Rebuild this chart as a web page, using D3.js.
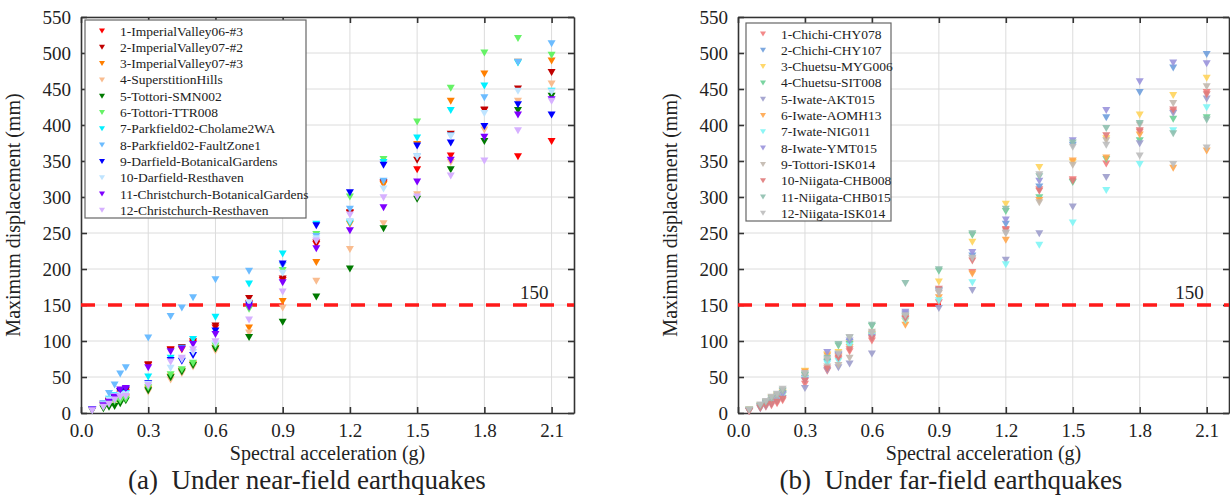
<!DOCTYPE html>
<html>
<head>
<meta charset="utf-8">
<script src="https://cdn.jsdelivr.net/npm/d3@7"></script>
<style>
  body { margin: 0; background: #fff; }
  text { font-family: "Liberation Serif", "Times New Roman", serif; fill: #222; }
</style>
</head>
<body>
<script>
// spectral acceleration levels (g)
var xs = [0.05, 0.1, 0.125, 0.15, 0.175, 0.2, 0.3, 0.4, 0.45, 0.5, 0.6, 0.75, 0.9, 1.05, 1.2, 1.35, 1.5, 1.65, 1.8, 1.95, 2.1];
var xTicks = [0.0, 0.3, 0.6, 0.9, 1.2, 1.5, 1.8, 2.1];
var yTicks = [0, 50, 100, 150, 200, 250, 300, 350, 400, 450, 500, 550];
var limit = 150;

// (a) near-field
var nearNames = ['1-ImperialValley06-#3', '2-ImperialValley07-#2', '3-ImperialValley07-#3', '4-SuperstitionHills',
  '5-Tottori-SMN002', '6-Tottori-TTR008', '7-Parkfield02-Cholame2WA', '8-Parkfield02-FaultZone1',
  '9-Darfield-BotanicalGardens', '10-Darfield-Resthaven', '11-Christchurch-BotanicalGardens', '12-Christchurch-Resthaven'];
var nearColors = ['#ff0000', '#c00000', '#ff7f00', '#f9bc8f', '#007a00', '#66f266', '#00f0ff', '#6cbcff',
  '#0000ff', '#bfe4ff', '#7f00ff', '#d6b0ff'];
var nearValues = [
  [5, 11, 16, 20, 26, 28, 66, 88, 88, 97, 118, 152, 184, 234, 277, 318, 338, 357, 420, 356, 377],
  [5, 12, 17, 22, 29, 31, 67, 87, 91, 99, 121, 159, 186, 236, 278, 320, 351, 387, 421, 450, 473],
  [4, 9, 13, 17, 20, 22, 33, 50, 58, 67, 90, 118, 155, 209, 262, 317, 373, 433, 471, 487, 489],
  [3, 7, 10, 13, 16, 20, 29, 46, 55, 64, 86, 111, 146, 183, 227, 263, 303, 348, 393, 433, 457],
  [3, 6, 8, 9, 13, 17, 31, 49, 57, 66, 89, 105, 126, 161, 200, 256, 297, 338, 377, 420, 440],
  [5, 8, 12, 16, 17, 19, 35, 53, 60, 69, 93, 144, 198, 248, 300, 352, 404, 451, 500, 520, 497],
  [5, 12, 19, 24, 24, 27, 50, 76, 90, 102, 133, 179, 221, 262, 264, 348, 382, 420, 454, 486, 447],
  [5, 13, 27, 39, 54, 63, 104, 134, 146, 160, 185, 197, 205, 245, 283, 322, 356, 385, 438, 487, 513],
  [4, 10, 15, 21, 30, 33, 41, 73, 72, 80, 114, 150, 207, 260, 306, 344, 371, 375, 398, 428, 414],
  [4, 11, 18, 23, 25, 26, 40, 62, 74, 84, 96, 153, 194, 242, 266, 311, 356, 384, 416, 447, 446],
  [4, 10, 15, 22, 32, 34, 63, 85, 89, 95, 109, 147, 181, 228, 253, 285, 321, 351, 383, 414, 435],
  [3, 8, 12, 18, 22, 23, 38, 71, 76, 88, 99, 129, 168, 239, 275, 299, 300, 329, 350, 392, 433]
];

// (b) far-field
var farNames = ['1-Chichi-CHY078', '2-Chichi-CHY107', '3-Chuetsu-MYG006', '4-Chuetsu-SIT008', '5-Iwate-AKT015',
  '6-Iwate-AOMH13', '7-Iwate-NIG011', '8-Iwate-YMT015', '9-Tottori-ISK014', '10-Niigata-CHB008',
  '11-Niigata-CHB015', '12-Niigata-ISK014'];
var farColors = ['#f27c7c', '#6f9fdc', '#ffd45c', '#6ccf96', '#9d9dcc', '#ffa64d', '#7ff5f5', '#9a94dc',
  '#c2b8ae', '#e07a7a', '#8ebfae', '#bcbcbc'];
var farValues = [
  [2, 6, 8, 10, 13, 17, 40, 58, 74, 85, 100, 130, 153, 195, 255, 310, 324, 346, 390, 418, 445],
  [3, 8, 11, 15, 19, 25, 48, 70, 81, 98, 108, 136, 170, 218, 262, 314, 372, 410, 445, 479, 498],
  [4, 10, 14, 21, 24, 28, 58, 81, 84, 96, 109, 127, 182, 237, 290, 341, 348, 381, 414, 441, 465],
  [3, 9, 13, 17, 22, 27, 52, 72, 93, 95, 120, 133, 197, 247, 280, 299, 320, 352, 378, 408, 410],
  [2, 6, 9, 12, 16, 20, 34, 59, 63, 68, 82, 138, 145, 170, 212, 249, 286, 327, 374, 416, 436],
  [3, 8, 12, 16, 20, 24, 57, 79, 78, 91, 106, 122, 160, 193, 240, 295, 350, 354, 386, 340, 364],
  [3, 8, 12, 15, 19, 24, 47, 68, 72, 93, 107, 128, 156, 181, 206, 233, 264, 309, 345, 392, 424],
  [3, 9, 13, 17, 21, 26, 45, 84, 80, 100, 105, 140, 168, 223, 268, 322, 378, 420, 460, 486, 485],
  [3, 9, 14, 18, 23, 30, 50, 64, 66, 76, 112, 134, 166, 214, 249, 292, 344, 378, 400, 430, 453],
  [2, 7, 10, 12, 15, 19, 44, 61, 76, 88, 103, 131, 172, 211, 253, 308, 322, 385, 392, 421, 442],
  [4, 10, 15, 20, 25, 31, 53, 76, 95, 104, 122, 180, 199, 249, 283, 328, 375, 395, 402, 388, 407],
  [4, 11, 16, 22, 26, 33, 55, 74, 82, 105, 110, 135, 169, 215, 250, 331, 369, 372, 357, 345, 368]
];

var svg = d3.select('body').append('svg')
  .attr('width', 1230)
  .attr('height', 500);

// downward triangle centred on (0,0)
function tri(w, h) {
  return 'M' + (-w / 2) + ',' + (-h / 2) + 'L' + (w / 2) + ',' + (-h / 2) + 'L0,' + (h / 2) + 'Z';
}

function drawPanel(p) {
  var x = d3.scaleLinear().domain([0, 2.2]).range([p.left, p.right]);
  var y = d3.scaleLinear().domain([0, 550]).range([413, 17]);
  var g = svg.append('g');

  // grid
  g.selectAll('.gx').data(xTicks.slice(1)).enter().append('line')
    .attr('x1', function(d) { return x(d); }).attr('x2', function(d) { return x(d); })
    .attr('y1', y(0)).attr('y2', y(550))
    .attr('stroke', '#dcdcdc').attr('stroke-width', 1);
  g.selectAll('.gy').data(yTicks.slice(1)).enter().append('line')
    .attr('x1', x(0)).attr('x2', x(2.2))
    .attr('y1', function(d) { return y(d); }).attr('y2', function(d) { return y(d); })
    .attr('stroke', '#dcdcdc').attr('stroke-width', 1);

  // axes with inward ticks
  var fmt = d3.format('.1f');
  g.append('g').attr('transform', 'translate(0,' + y(0) + ')')
    .call(d3.axisBottom(x).tickValues(xTicks).tickFormat(fmt).tickSizeInner(-6).tickSizeOuter(0).tickPadding(10.5));
  g.append('g').attr('transform', 'translate(0,' + y(550) + ')')
    .call(d3.axisTop(x).tickValues(xTicks).tickFormat('').tickSizeInner(-6).tickSizeOuter(0));
  g.append('g').attr('transform', 'translate(' + x(0) + ',0)')
    .call(d3.axisLeft(y).tickValues(yTicks).tickSizeInner(-6).tickSizeOuter(0).tickPadding(10));
  g.append('g').attr('transform', 'translate(' + x(2.2) + ',0)')
    .call(d3.axisRight(y).tickValues(yTicks).tickFormat('').tickSizeInner(-6).tickSizeOuter(0));
  g.selectAll('.domain').attr('stroke', '#333').attr('stroke-width', 1.6);
  g.selectAll('.tick line').attr('stroke', '#333').attr('stroke-width', 1.6);
  g.selectAll('.tick text').attr('font-size', 19).attr('font-family', '"Liberation Serif", serif').attr('fill', '#222');

  // 150 mm limit
  g.append('line')
    .attr('x1', x(0)).attr('x2', x(2.2))
    .attr('y1', y(limit)).attr('y2', y(limit))
    .attr('stroke', '#ff1a1a').attr('stroke-width', 3.5)
    .attr('stroke-dasharray', '14,13');
  g.append('text')
    .attr('x', x(2.1) - 3).attr('y', y(limit) - 6)
    .attr('text-anchor', 'end').attr('font-size', 19)
    .text(limit);

  // points
  p.values.forEach(function(vals, i) {
    g.append('g').selectAll('path').data(vals).enter().append('path')
      .attr('d', tri(8, 7))
      .attr('transform', function(d, j) { return 'translate(' + x(xs[j]) + ',' + y(d) + ')'; })
      .attr('fill', p.colors[i])
      .attr('fill-opacity', p.opacity);
  });

  // legend
  var lg = g.append('g').attr('transform', 'translate(' + p.legX + ',' + p.legY + ')');
  lg.append('rect')
    .attr('width', p.legW).attr('height', 198)
    .attr('fill', '#fff').attr('stroke', '#666').attr('stroke-width', 1.2);
  p.names.forEach(function(n, i) {
    lg.append('path')
      .attr('d', tri(6, 5))
      .attr('transform', 'translate(17,' + (11 + i * 16.3) + ')')
      .attr('fill', p.colors[i]).attr('fill-opacity', p.opacity);
    lg.append('text')
      .attr('x', 35).attr('y', 15.5 + i * 16.3)
      .attr('font-size', 13.5).attr('fill', '#333')
      .text(n);
  });

  // axis titles and caption
  g.append('text')
    .attr('transform', 'translate(' + (p.left - 61) + ',' + y(275) + ') rotate(-90)')
    .attr('text-anchor', 'middle').attr('font-size', 20)
    .text('Maximum displacement (mm)');
  g.append('text')
    .attr('x', (p.left + p.right) / 2).attr('y', 460)
    .attr('text-anchor', 'middle').attr('font-size', 20)
    .text('Spectral acceleration (g)');
  g.append('text')
    .attr('x', p.capX).attr('y', 489)
    .attr('text-anchor', 'middle').attr('font-size', 27).attr('fill', '#111')
    .attr('xml:space', 'preserve')
    .text(p.caption);
}

drawPanel({ left: 81, right: 574, values: nearValues, colors: nearColors, names: nearNames, opacity: 1,
  legX: 85, legY: 20, legW: 221, capX: 307, caption: '(a)  Under near-field earthquakes' });
drawPanel({ left: 738, right: 1229, values: farValues, colors: farColors, names: farNames, opacity: 0.9,
  legX: 746, legY: 23, legW: 145, capX: 951, caption: '(b)  Under far-field earthquakes' });
</script>
</body>
</html>
